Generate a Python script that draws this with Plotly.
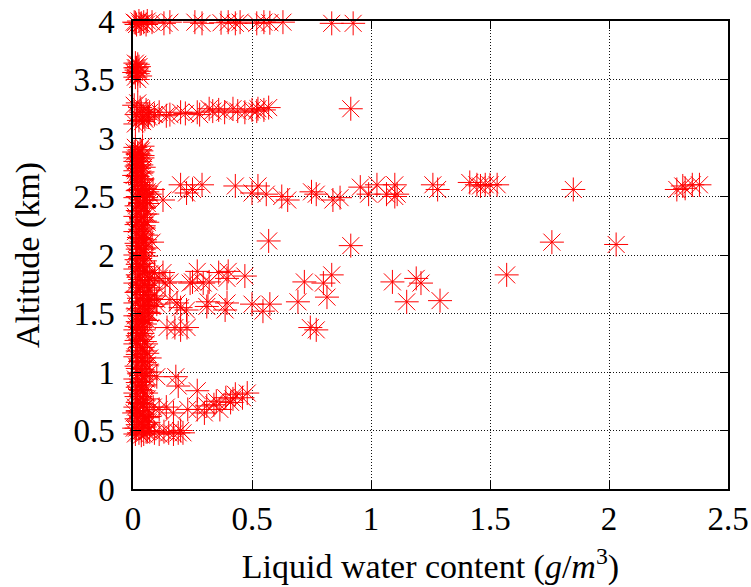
import plotly.graph_objects as go

# ---- data (liquid water content g/m^3, altitude km) ----
lwc_top = [0.005, 0.015, 0.025, 0.035, 0.045, 0.055, 0.01, 0.03, 0.06,
           0.08, 0.13, 0.155, 0.26, 0.29, 0.37, 0.40, 0.43, 0.45, 0.52, 0.55, 0.575, 0.63, 0.835, 0.925]
alt_top = [3.99, 3.97, 4.0, 3.98, 3.99, 3.97, 3.985, 3.975, 4.0,
           3.99, 3.98, 3.99, 3.99, 3.98, 3.985, 3.99, 3.98, 3.99, 3.98, 3.99, 3.985, 3.99, 3.98, 3.98]

lwc_35 = [0.01, 0.02, 0.015, 0.025, 0.01, 0.02, 0.005, 0.03, 0.015, 0.025, 0.02, 0.01]
alt_35 = [3.52, 3.55, 3.58, 3.61, 3.64, 3.63, 3.56, 3.53, 3.60, 3.57, 3.50, 3.60]

lwc_32 = [0.005, 0.015, 0.025, 0.035, 0.045, 0.055, 0.02, 0.01, 0.03, 0.04, 0.06, 0.07, 0.05, 0.065,
          0.09, 0.11, 0.14, 0.155, 0.20, 0.22, 0.27, 0.28, 0.32, 0.335, 0.36, 0.385, 0.42, 0.44,
          0.47, 0.50, 0.52, 0.525, 0.55, 0.57, 0.915]
alt_32 = [3.28, 3.20, 3.15, 3.22, 3.18, 3.24, 3.30, 3.12, 3.26, 3.14, 3.20, 3.22, 3.16, 3.18,
          3.20, 3.22, 3.19, 3.20, 3.22, 3.21, 3.22, 3.20, 3.25, 3.23, 3.24, 3.22, 3.25, 3.23,
          3.22, 3.24, 3.23, 3.25, 3.24, 3.26, 3.25]

lwc_27 = [0.01, 0.03, 0.02, 0.04, 0.01, 0.03, 0.02, 0.045, 0.01, 0.035, 0.02, 0.04, 0.01, 0.03,
          0.025, 0.015, 0.035, 0.005, 0.04, 0.005]
alt_27 = [2.92, 2.90, 2.87, 2.85, 2.83, 2.80, 2.77, 2.75, 2.72, 2.70, 2.67, 2.65, 2.62, 2.60,
          2.82, 2.76, 2.64, 2.68, 2.93, 2.88]

lwc_25 = [0.05, 0.06, 0.07, 0.04, 0.055,
          0.084, 0.126, 0.20, 0.225, 0.25, 0.29, 0.43, 0.50, 0.525, 0.56, 0.625, 0.65, 0.75, 0.77,
          0.84, 0.87, 0.955, 0.99, 1.025, 1.065, 1.10, 1.11, 1.10, 1.26, 1.28, 1.415, 1.445, 1.46,
          1.48, 1.50, 1.53, 1.85, 2.285, 2.31, 2.32, 2.35, 2.38]
alt_25 = [2.57, 2.54, 2.52, 2.50, 2.49,
          2.56, 2.47, 2.60, 2.53, 2.56, 2.60, 2.59, 2.53, 2.59, 2.52, 2.50, 2.47, 2.54, 2.52,
          2.47, 2.49, 2.58, 2.52, 2.60, 2.52, 2.60, 2.52, 2.50, 2.60, 2.56, 2.62, 2.60, 2.59,
          2.60, 2.60, 2.60, 2.56, 2.56, 2.59, 2.57, 2.60, 2.60]

lwc_22 = [0.02, 0.04, 0.01, 0.05, 0.03, 0.015, 0.045, 0.025, 0.05, 0.01, 0.035, 0.02, 0.045, 0.03,
          0.01, 0.04, 0.025, 0.05, 0.015, 0.035, 0.02, 0.045, 0.01, 0.03, 0.05, 0.02, 0.04, 0.06,
          0.06, 0.055, 0.08, 0.57, 0.915, 1.76, 2.03]
alt_22 = [2.55, 2.52, 2.49, 2.47, 2.45, 2.42, 2.40, 2.37, 2.35, 2.33, 2.30, 2.28, 2.25, 2.22,
          2.20, 2.18, 2.15, 2.13, 2.10, 2.07, 2.05, 2.02, 2.00, 1.97, 1.95, 1.92, 1.90, 2.44,
          2.28, 2.06, 2.11, 2.12, 2.08, 2.11, 2.09]

lwc_16 = [0.01, 0.04, 0.02, 0.06, 0.03, 0.08, 0.01, 0.05, 0.03, 0.07, 0.015, 0.045, 0.09, 0.025,
          0.06, 0.01, 0.04, 0.08, 0.02, 0.05, 0.03, 0.10, 0.01, 0.04, 0.02, 0.05, 0.03, 0.01,
          0.04, 0.02, 0.10, 0.11, 0.09, 0.07, 0.06,
          0.126, 0.155, 0.135, 0.24, 0.27, 0.25, 0.295, 0.32, 0.36, 0.40, 0.395, 0.47,
          0.155, 0.185, 0.225, 0.20, 0.315, 0.31, 0.395, 0.387, 0.50, 0.546, 0.575, 0.693,
          0.72, 0.80, 0.835, 0.815, 0.745, 0.77, 1.09, 1.19, 1.21, 1.15, 1.29, 1.57,
          0.143, 0.176, 0.227, 0.20]
alt_16 = [1.88, 1.86, 1.83, 1.81, 1.79, 1.78, 1.76, 1.74, 1.72, 1.70, 1.68, 1.66, 1.65, 1.63,
          1.61, 1.59, 1.57, 1.56, 1.54, 1.52, 1.50, 1.58, 1.48, 1.46, 1.43, 1.41, 1.38, 1.36,
          1.33, 1.31, 1.62, 1.80, 1.85, 1.50, 1.44,
          1.85, 1.77, 1.76, 1.76, 1.86, 1.77, 1.76, 1.77, 1.85, 1.86, 1.80, 1.82,
          1.62, 1.59, 1.53, 1.55, 1.60, 1.56, 1.59, 1.53, 1.58, 1.52, 1.58, 1.60,
          1.77, 1.76, 1.83, 1.64, 1.38, 1.36, 1.77, 1.80, 1.76, 1.60, 1.61, 1.83,
          1.38, 1.38, 1.38, 1.36]

lwc_10 = [0.03, 0.05, 0.01, 0.04, 0.02, 0.06, 0.01, 0.035, 0.05, 0.015, 0.04, 0.025, 0.055, 0.01,
          0.035, 0.05, 0.02, 0.04, 0.01, 0.03, 0.06, 0.02, 0.045, 0.01, 0.07, 0.07,
          0.10, 0.18, 0.19, 0.27, 0.35, 0.39, 0.43, 0.48, 0.46, 0.42, 0.31, 0.34, 0.27, 0.23,
          0.17, 0.14, 0.11, 0.30, 0.41, 0.365, 0.085, 0.07]
alt_10 = [1.28, 1.26, 1.24, 1.21, 1.18, 1.16, 1.13, 1.10, 1.08, 1.05, 1.02, 0.99, 0.97, 0.94,
          0.92, 0.89, 0.87, 0.84, 0.82, 0.79, 0.77, 0.74, 0.72, 0.70, 1.00, 1.12,
          0.96, 0.96, 0.88, 0.84, 0.75, 0.78, 0.81, 0.82, 0.78, 0.77, 0.71, 0.72, 0.68, 0.68,
          0.65, 0.70, 0.68, 0.65, 0.74, 0.68, 0.70, 0.62]

lwc_05 = [0.005, 0.03, 0.055, 0.015, 0.04, 0.065, 0.02, 0.05, 0.005, 0.035, 0.06, 0.01, 0.025,
          0.045, 0.07, 0.02, 0.09, 0.11, 0.13, 0.15, 0.17, 0.19, 0.21, 0.20]
alt_05 = [0.65, 0.63, 0.62, 0.60, 0.58, 0.57, 0.55, 0.53, 0.52, 0.50, 0.49, 0.47, 0.48,
          0.47, 0.50, 0.66, 0.48, 0.47, 0.49, 0.48, 0.47, 0.48, 0.48, 0.50]

# dense column of small values near zero
lwc_col = [0.035, 0.055, 0.015, 0.045, 0.025, 0.06, 0.04, 0.02, 0.05, 0.03,
           0.045, 0.015, 0.055, 0.03, 0.045, 0.02, 0.055, 0.035, 0.05, 0.02,
           0.06, 0.03, 0.045, 0.02, 0.05, 0.03, 0.055, 0.015, 0.04, 0.025,
           0.045, 0.015, 0.035, 0.05, 0.025, 0.065, 0.04, 0.06, 0.03, 0.075,
           0.05, 0.02, 0.065, 0.04, 0.06, 0.025, 0.07, 0.05, 0.03, 0.045,
           0.015, 0.055, 0.03, 0.045, 0.02, 0.05, 0.035, 0.055, 0.025, 0.045,
           0.015, 0.05, 0.035, 0.06, 0.02, 0.045, 0.03, 0.055, 0.02, 0.045,
           0.03, 0.05, 0.02, 0.035, 0.015, 0.04, 0.025, 0.035, 0.01, 0.04,
           0.02, 0.035]
alt_col = [0.46, 0.49, 0.52, 0.55, 0.58, 0.61, 0.64, 0.67, 0.70, 0.73,
           0.76, 0.79, 0.82, 0.85, 0.88, 0.91, 0.94, 0.97, 1.00, 1.03,
           1.06, 1.09, 1.12, 1.15, 1.18, 1.21, 1.24, 1.27, 1.30, 1.33,
           1.36, 1.39, 1.42, 1.45, 1.48, 1.51, 1.54, 1.57, 1.60, 1.63,
           1.66, 1.69, 1.72, 1.75, 1.78, 1.81, 1.84, 1.87, 1.90, 1.93,
           1.96, 1.99, 2.02, 2.05, 2.08, 2.11, 2.14, 2.17, 2.20, 2.23,
           2.26, 2.29, 2.32, 2.35, 2.38, 2.41, 2.44, 2.47, 2.50, 2.53,
           2.56, 2.59, 2.62, 2.65, 2.68, 2.71, 2.74, 2.77, 2.80, 2.83,
           2.86, 2.89]

x_ticks = [0, 0.5, 1, 1.5, 2, 2.5]
x_tick_text = ["0", "0.5", "1", "1.5", "2", "2.5"]
y_ticks = [0, 0.5, 1, 1.5, 2, 2.5, 3, 3.5, 4]
y_tick_text = ["0", "0.5", "1", "1.5", "2", "2.5", "3", "3.5", "4"]

lwc = lwc_top + lwc_35 + lwc_32 + lwc_27 + lwc_25 + lwc_22 + lwc_16 + lwc_10 + lwc_05 + lwc_col
alt = alt_top + alt_35 + alt_32 + alt_27 + alt_25 + alt_22 + alt_16 + alt_10 + alt_05 + alt_col

FONT = "Liberation Serif"

fig = go.Figure()
fig.add_trace(go.Scatter(
    x=lwc, y=alt, mode="markers", cliponaxis=False, showlegend=False,
    marker=dict(symbol="asterisk-open", size=20, color="red",
                line=dict(color="red", width=1)),
))

axis_common = dict(
    showline=True, linecolor="black", linewidth=1.5, mirror="ticks",
    ticks="inside", ticklen=8, tickcolor="black", tickwidth=1,
    showgrid=True, gridcolor="#111111", gridwidth=1, griddash="1px,2px",
    zeroline=False, tickfont=dict(family=FONT, size=33, color="black"),
)

fig.update_xaxes(range=[0, 2.5], tickvals=x_ticks, ticktext=x_tick_text,
                 ticklabelstandoff=0,
                 title=dict(text="Liquid water content (<i>g</i>/<i>m</i><sup>3</sup>)",
                            font=dict(family=FONT, size=34, color="black"), standoff=18),
                 **axis_common)
fig.update_yaxes(range=[0, 4], tickvals=y_ticks, ticktext=y_tick_text,
                 ticklabelstandoff=10,
                 title=dict(text="Altitude (km)",
                            font=dict(family=FONT, size=34, color="black"), standoff=24),
                 **axis_common)

fig.update_layout(
    width=751, height=587,
    margin=dict(l=133, r=23, t=21, b=98, autoexpand=False),
    plot_bgcolor="white", paper_bgcolor="white",
    font=dict(family=FONT, color="black"),
)

fig.write_html("out.html", config={"displayModeBar": False},
               post_script="document.body.style.margin='0px';")
